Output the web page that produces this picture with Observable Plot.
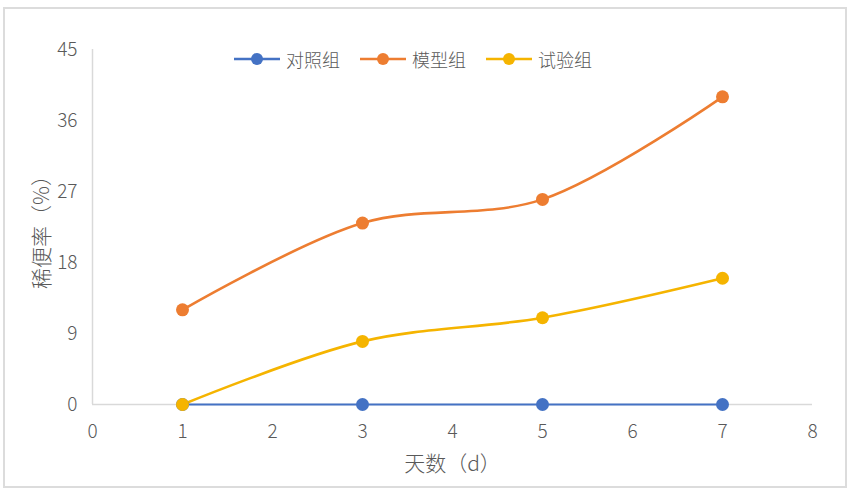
<!DOCTYPE html>
<html>
<head>
<meta charset="utf-8">
<script src="https://cdn.jsdelivr.net/npm/d3@7"></script>
<script src="https://cdn.jsdelivr.net/npm/@observablehq/plot@0.6"></script>
<style>
  html, body { margin: 0; padding: 0; background: #fff; }
  #wrap { position: relative; width: 850px; height: 491px; overflow: hidden; font-family: "Noto Sans CJK SC", "Noto Sans", sans-serif; }
  #border { position: absolute; left: 3px; top: 7px; width: 840px; height: 477px; border: 2px solid #dcdcdc; box-sizing: content-box; pointer-events: none; }
  #legend { position: absolute; top: 46px; left: 233px; display: flex; align-items: center; font-size: 18px; color: #595959; font-weight: 300; }
  #legend .item { display: flex; align-items: center; margin-right: 19px; }
  #legend svg { margin-right: 5px; }
  #chart g[aria-label$="tick label"] { font-size: 19px; font-weight: 300; fill: #595959; }
</style>
</head>
<body>
<div id="wrap">
  <div id="chart"></div>
  <div id="legend"></div>
  <div id="border"></div>
</div>
<script>
const days = [1, 3, 5, 7];
const seriesNames = ["对照组", "模型组", "试验组"];
const controlValues = [0, 0, 0, 0];
const modelValues = [12, 23, 26, 39];
const testValues = [0, 8, 11, 16];
const colors = ["#4472C4", "#ED7D31", "#F5B400"];
const xTicks = [0, 1, 2, 3, 4, 5, 6, 7, 8];
const yTicks = [0, 9, 18, 27, 36, 45];
const xLabel = "天数（d）";
const yLabel = "稀便率（%）";

const allValues = [controlValues, modelValues, testValues];
const data = [];
seriesNames.forEach((name, i) => {
  days.forEach((d, j) => data.push({ series: name, day: d, value: allValues[i][j] }));
});

const chart = Plot.plot({
  width: 850,
  height: 491,
  marginLeft: 92,
  marginRight: 38,
  marginTop: 49,
  marginBottom: 87,
  style: { fontFamily: "'Noto Sans CJK SC', 'Noto Sans', sans-serif", fontSize: "19px", fontWeight: 300, color: "#595959", background: "transparent" },
  x: { domain: [0, 8], label: null },
  y: { domain: [0, 45], label: null },
  color: { domain: seriesNames, range: colors },
  marks: [
    Plot.axisX({ ticks: xTicks, tickSize: 0, tickPadding: 20, fontSize: 19, label: null }),
    Plot.axisY({ ticks: yTicks, tickSize: 0, tickPadding: 15, fontSize: 19, label: null }),
    Plot.ruleX([0], { stroke: "#d9d9d9", strokeWidth: 1.5 }),
    Plot.ruleY([0], { stroke: "#d9d9d9", strokeWidth: 1.5 }),
    Plot.line(data, { x: "day", y: "value", z: "series", stroke: "series", strokeWidth: (d) => d.series === "对照组" ? 1.8 : 2.6, curve: "catmull-rom" }),
    Plot.dot(data, { x: "day", y: "value", fill: "series", r: 6.5 }),
    Plot.text([xLabel], { frameAnchor: "bottom", dy: 66, fontSize: 21, fontWeight: 300, fill: "#595959" }),
    Plot.text([yLabel], { frameAnchor: "left", textAnchor: "middle", dx: -50, rotate: -90, fontSize: 21, fontWeight: 300, fill: "#595959" })
  ]
});
document.getElementById("chart").appendChild(chart);

const legend = document.getElementById("legend");
seriesNames.forEach((name, i) => {
  const item = document.createElement("div");
  item.className = "item";
  item.innerHTML = `<svg width="48" height="14"><line x1="1" y1="7" x2="47" y2="7" stroke="${colors[i]}" stroke-width="2.5"/><circle cx="24" cy="7" r="6" fill="${colors[i]}"/></svg><span>${name}</span>`;
  legend.appendChild(item);
});
</script>
</body>
</html>
